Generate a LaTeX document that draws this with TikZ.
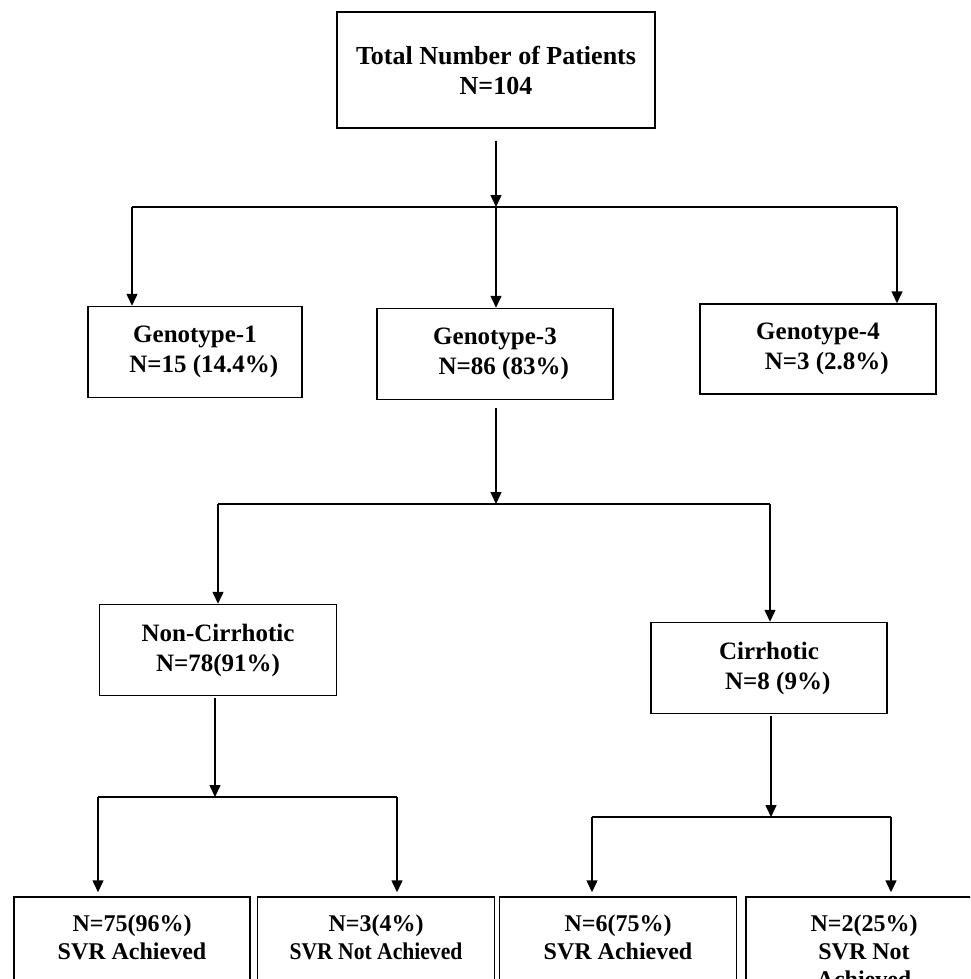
\documentclass[tikz,border=0pt]{standalone}
\usepackage{fontspec}
\setmainfont{Liberation Serif}
\usetikzlibrary{arrows.meta}

\begin{document}
\begin{tikzpicture}[x=1pt,y=-1pt,
    link/.style={line width=1.5pt},
    arr/.style={line width=1.5pt,-{Triangle[length=12pt,width=11pt]}}]
    \useasboundingbox (0,0) rectangle (970,979);
    \clip (0,0) rectangle (970,979);

    \begin{scope}[every node/.style={draw,line width=1.5pt,align=center,inner sep=0pt,
        minimum height=91pt,minimum width=236pt,font=\bfseries\fontsize{25}{30}\selectfont}]
        \node (total) at (496,70) [minimum width=318pt,minimum height=116pt,
            font=\bfseries\fontsize{26}{30}\selectfont] {Total Number of Patients\\N=104};
        \node (geno1) at (195,352) [minimum width=214pt] {Genotype-1\\\hspace*{0.7em}N=15 (14.4\%)};
        \node (geno3) at (495,354) {Genotype-3\\\hspace*{0.7em}N=86 (83\%)};
        \node (geno4) at (818,349) [minimum height=90pt] {Genotype-4\\\hspace*{0.7em}N=3 (2.8\%)};
        \node (noncir) at (218,650) [minimum width=237pt] {Non-Cirrhotic\\N=78(91\%)};
        \node (cir) at (769,668) {Cirrhotic\\\hspace*{0.7em}N=8 (9\%)};
    \end{scope}

    % outcome boxes run past the lower edge
    \begin{scope}[every node/.style={draw,line width=1.5pt,align=center,inner sep=0pt,
        minimum height=116pt,minimum width=236pt,font=\bfseries\fontsize{24}{28}\selectfont}]
        \node (svr1) at (132,955) {N=75(96\%)\\SVR Achieved\\\strut};
        \node (svr2) at (376,955) [minimum width=237pt] {N=3(4\%)\\\scalebox{0.9}[1]{SVR Not Achieved}\\\strut};
        \node (svr3) at (618,955) [minimum width=237pt] {N=6(75\%)\\SVR Achieved\\\strut};
        \node (svr4) at (864,951) [minimum height=108pt] {N=2(25\%)\\SVR Not\\Achieved};
    \end{scope}

    % branch points
    \coordinate (b1) at (496,207);
    \coordinate (b1l) at (132,207);
    \coordinate (b1r) at (897,207);
    \coordinate (b2) at (496,504);
    \coordinate (b2l) at (218,504);
    \coordinate (b2r) at (770,504);
    \coordinate (b3) at (215,797);
    \coordinate (b3l) at (98,797);
    \coordinate (b3r) at (397,797);
    \coordinate (b4) at (771,817);
    \coordinate (b4l) at (592,817);
    \coordinate (b4r) at (891,817);

    \begin{scope}
        \draw [arr,shorten <=12pt] (total.south) -- (b1);
        \draw [link] (b1l) -- (b1r);
        \draw [arr] (b1l) -- (b1l |- geno1.north);
        \draw [arr] (b1) -- (b1 |- geno3.north);
        \draw [arr] (b1r) -- (b1r |- geno4.north);

        \draw [arr,shorten <=8pt] (geno3.south -| b2) -- (b2);
        \draw [link] (b2l) -- (b2r);
        \draw [arr] (b2l) -- (b2l |- noncir.north);
        \draw [arr] (b2r) -- (b2r |- cir.north);

        \draw [arr,shorten <=2pt] (noncir.south -| b3) -- (b3);
        \draw [link] (b3l) -- (b3r);
        \draw [arr,shorten >=4pt] (b3l) -- (b3l |- svr1.north);
        \draw [arr,shorten >=4pt] (b3r) -- (b3r |- svr2.north);

        \draw [arr,shorten <=2pt] (cir.south -| b4) -- (b4);
        \draw [link] (b4l) -- (b4r);
        \draw [arr,shorten >=4pt] (b4l) -- (b4l |- svr3.north);
        \draw [arr,shorten >=4pt] (b4r) -- (b4r |- svr4.north);
    \end{scope}
\end{tikzpicture}
\end{document}
